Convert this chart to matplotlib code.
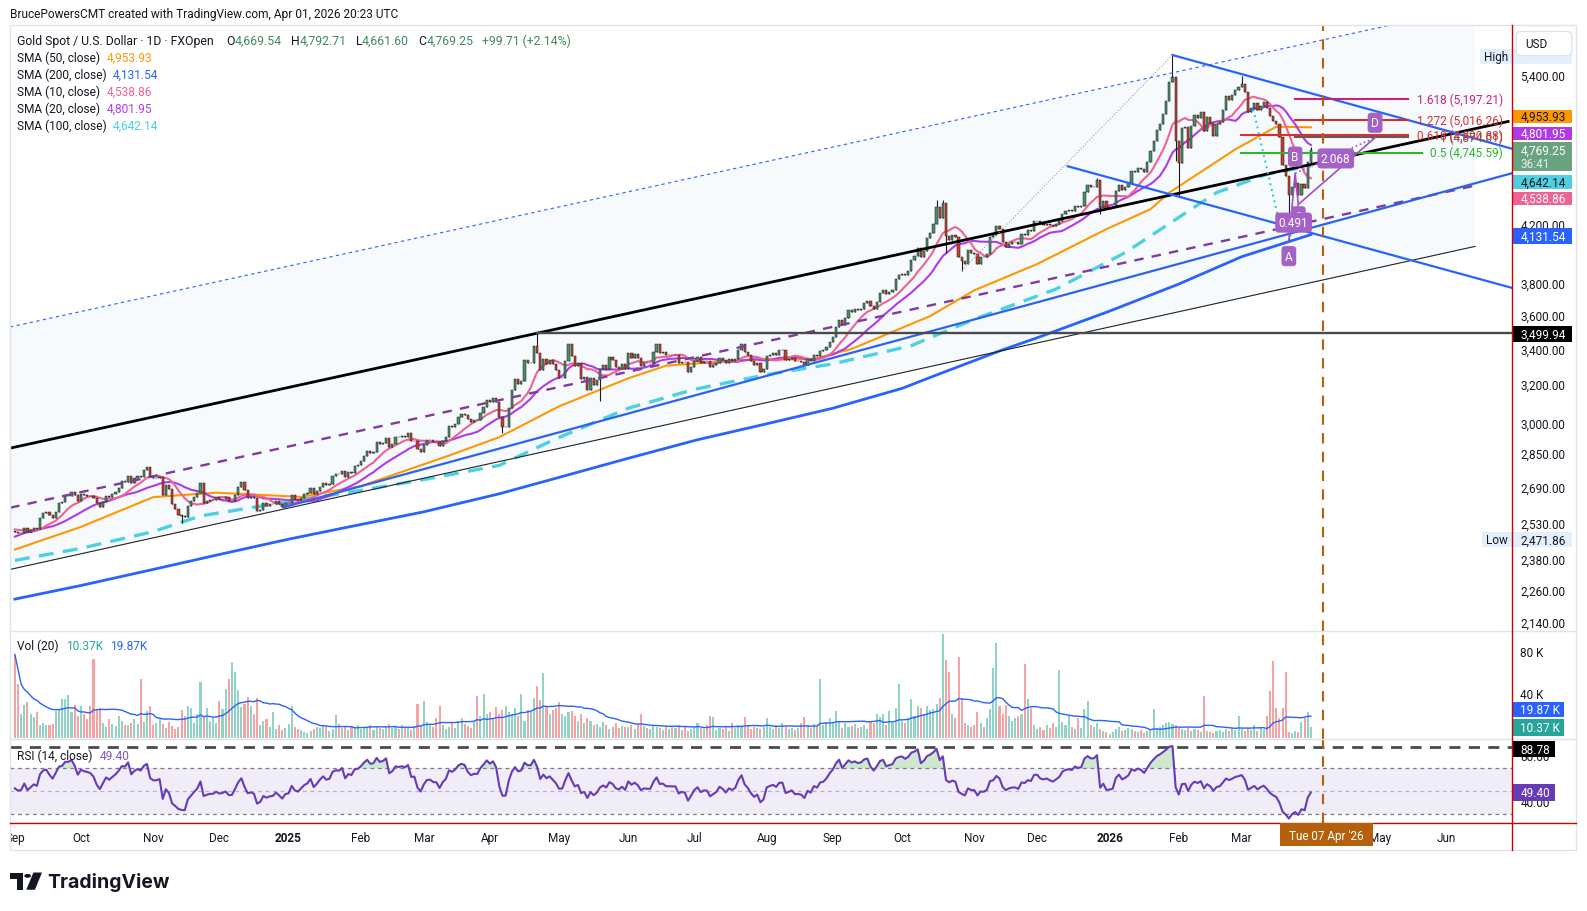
import matplotlib
matplotlib.use('Agg')
import matplotlib.pyplot as plt
import matplotlib.transforms as mtrans
from matplotlib.patches import Rectangle, Polygon, Circle, FancyBboxPatch
from matplotlib.lines import Line2D
import numpy as np
import pandas as pd

plt.rcParams['font.family'] = ['Roboto', 'DejaVu Sans']

# ---------------- daily closes (XAU/USD, FXOpen, 1D) ----------------
c_2408 = [2447, 2443, 2410, 2390, 2382, 2427, 2431, 2472, 2465, 2447, 2456,
          2507, 2504, 2514, 2512, 2485, 2512, 2518, 2524, 2504, 2521, 2503]
c_2409 = [2500, 2493, 2495, 2516, 2497, 2506, 2516, 2512, 2558, 2578, 2582,
          2569, 2559, 2586, 2622, 2628, 2657, 2657, 2672, 2658, 2634]
c_2410 = [2662, 2658, 2656, 2653, 2644, 2622, 2608, 2630, 2656, 2649, 2662, 2674,
          2693, 2721, 2720, 2748, 2715, 2736, 2747, 2743, 2774, 2788, 2744]
c_2411 = [2736, 2736, 2742, 2659, 2706, 2685, 2618, 2598, 2573, 2565, 2563,
          2612, 2631, 2651, 2670, 2715, 2625, 2633, 2638, 2639, 2650]
c_2412 = [2640, 2643, 2650, 2632, 2633, 2660, 2694, 2718, 2681, 2648, 2652,
          2646, 2587, 2595, 2622, 2612, 2618, 2620, 2634, 2621, 2606, 2624]
c_2501 = [2626, 2658, 2640, 2635, 2648, 2662, 2670, 2690, 2662, 2677, 2697, 2714,
          2703, 2708, 2745, 2755, 2754, 2770, 2740, 2763, 2760, 2795, 2798]
c_2502 = [2815, 2843, 2867, 2856, 2861, 2908, 2897, 2905, 2929, 2883,
          2898, 2935, 2933, 2939, 2936, 2952, 2915, 2916, 2875, 2858]
c_2503 = [2893, 2918, 2920, 2911, 2910, 2889, 2916, 2934, 2989, 2984, 3001,
          3034, 3048, 3044, 3022, 3011, 3020, 3019, 3057, 3085, 3123]
c_2504 = [3113, 3134, 3115, 3037, 2982, 2983, 3083, 3176, 3237, 3211, 3225,
          3343, 3327, 3327, 3424, 3381, 3288, 3349, 3319, 3344, 3317, 3288]
c_2505 = [3239, 3241, 3334, 3431, 3366, 3306, 3325, 3235, 3249, 3176, 3240,
          3202, 3229, 3290, 3314, 3294, 3358, 3342, 3301, 3289, 3317, 3289]
c_2506 = [3381, 3352, 3374, 3354, 3310, 3326, 3323, 3323, 3386, 3432, 3384,
          3388, 3369, 3369, 3368, 3368, 3323, 3333, 3328, 3273, 3303]
c_2507 = [3339, 3357, 3326, 3337, 3336, 3301, 3313, 3325, 3355, 3344, 3324, 3347,
          3339, 3350, 3397, 3431, 3387, 3368, 3337, 3314, 3326, 3274, 3289]
c_2508 = [3363, 3373, 3381, 3370, 3397, 3398, 3341, 3348, 3356, 3335, 3336,
          3332, 3315, 3348, 3339, 3372, 3365, 3393, 3397, 3416, 3448]
c_2509 = [3476, 3533, 3578, 3545, 3586, 3636, 3627, 3641, 3634, 3643, 3679,
          3690, 3660, 3644, 3685, 3746, 3763, 3736, 3749, 3760, 3833, 3858]
c_2510 = [3866, 3857, 3887, 3961, 3985, 4041, 3976, 4018, 4110, 4143, 4208, 4326,
          4251, 4356, 4125, 4095, 4126, 4112, 3981, 3951, 3929, 4025, 4002]
c_2511 = [4001, 3932, 3980, 3977, 4000, 4115, 4128, 4195, 4172, 4083,
          4045, 4067, 4077, 4078, 4065, 4135, 4130, 4163, 4156, 4230]
c_2512 = [4231, 4205, 4199, 4208, 4197, 4189, 4208, 4228, 4279, 4299, 4305, 4302,
          4338, 4332, 4339, 4444, 4490, 4480, 4480, 4533, 4331, 4375, 4318]
c_2601 = [4320, 4330, 4450, 4495, 4455, 4478, 4510, 4600, 4590, 4625, 4615,
          4595, 4670, 4760, 4840, 4930, 4985, 5070, 5180, 5350, 5395, 4840]
c_2602 = [4665, 4945, 4960, 4780, 4965, 5060, 5030, 5085, 4920, 5040,
          4990, 4880, 4980, 5000, 5100, 5220, 5190, 5230, 5280, 5300]
c_2603 = [5330, 5260, 5080, 5120, 5160, 5100, 5140, 5170, 5120, 5050, 5010,
          4980, 4870, 4650, 4560, 4420, 4480, 4510, 4420, 4500, 4470, 4669.54]
c_2604 = [4769.25]

close_pre = c_2408
close = (c_2409 + c_2410 + c_2411 + c_2412 + c_2501 + c_2502 + c_2503 + c_2504 +
         c_2505 + c_2506 + c_2507 + c_2508 + c_2509 + c_2510 + c_2511 + c_2512 +
         c_2601 + c_2602 + c_2603 + c_2604)

# notable wicks (bar index, price)
wick_hi_idx = [43, 166, 293, 295, 344, 368, 390, 412]
wick_hi_val = [2790, 3500, 4380, 4381, 4550, 5598, 5405, 4792.71]
wick_lo_idx = [53, 155, 186, 296, 301, 345, 369, 370, 405, 412]
wick_lo_val = [2537, 2956, 3120, 4004, 3886, 4275, 4680, 4402, 4088, 4661.60]

# ---------------- volume (thousands) ----------------
v_2409 = [78, 50, 22, 31, 33, 22, 19, 24, 12, 14, 12, 12, 13, 25, 26, 36, 36, 40, 24, 31, 20]
v_2410 = [30, 22, 17, 30, 74, 26, 28, 14, 10, 17, 13, 11, 20, 16, 12, 12, 14, 17, 13, 55, 15, 25, 30]
v_2411 = [12, 14, 18, 13, 9, 15, 11, 8, 10, 26, 20, 30, 28, 14, 22, 52, 20, 28, 16, 18, 14]
v_2412 = [34, 27, 46, 55, 71, 62, 45, 29, 32, 38, 30, 22, 37, 12, 16, 17, 10, 24, 8, 12, 7, 9]
v_2501 = [13, 30, 10, 8, 7, 5, 4, 6, 8, 10, 9, 12, 11, 6, 8, 21, 13, 9, 10, 7, 11, 9, 12]
v_2502 = [8, 10, 9, 12, 7, 10, 9, 8, 11, 13, 9, 10, 8, 12, 9, 10, 7, 11, 32, 12]
v_2503 = [34, 15, 12, 10, 18, 30, 12, 8, 10, 14, 9, 16, 18, 13, 11, 9, 15, 39, 20, 41, 22]
v_2504 = [24, 18, 29, 22, 26, 30, 24, 22, 28, 20, 41, 16, 26, 24, 37, 48, 35, 61, 30, 22, 26, 28]
v_2505 = [33, 22, 20, 24, 25, 20, 16, 22, 14, 18, 16, 12, 13, 10, 15, 12, 8, 10, 14, 9, 11, 10]
v_2506 = [10, 12, 8, 13, 22, 11, 9, 8, 12, 10, 9, 7, 11, 8, 10, 9, 12, 7, 10, 6, 8]
v_2507 = [10, 14, 9, 8, 12, 20, 19, 7, 9, 8, 10, 6, 14, 9, 12, 11, 19, 12, 8, 10, 9, 8, 10]
v_2508 = [18, 10, 8, 12, 9, 14, 10, 8, 9, 7, 9, 14, 19, 12, 9, 13, 11, 55, 12, 15, 18]
v_2509 = [14, 25, 16, 9, 14, 10, 11, 13, 9, 10, 12, 8, 15, 14, 22, 19, 22, 12, 25, 14, 28, 50]
v_2510 = [16, 14, 18, 36, 20, 30, 28, 22, 30, 26, 27, 32, 37, 97, 73, 62, 22, 18, 76, 37, 14, 12, 10]
v_2511 = [12, 24, 14, 10, 18, 27, 65, 89, 30, 22, 31, 20, 16, 18, 20, 22, 69, 36, 28, 12]
v_2512 = [8, 10, 7, 12, 9, 14, 10, 63, 15, 12, 20, 10, 8, 18, 9, 27, 34, 12, 10, 14, 8, 6, 5]
v_2601 = [3, 5, 8, 10, 6, 7, 9, 8, 6, 5, 7, 4, 6, 8, 27, 9, 10, 12, 14, 15, 13, 12]
v_2602 = [10, 8, 7, 9, 6, 8, 7, 5, 39, 6, 5, 4, 6, 7, 5, 8, 6, 9, 7, 20]
v_2603 = [8, 6, 9, 7, 12, 6, 10, 8, 20, 44, 72, 28, 18, 28, 62, 5, 4, 6, 5, 15, 18, 24]
v_2604 = [10.37]
volume = (v_2409 + v_2410 + v_2411 + v_2412 + v_2501 + v_2502 + v_2503 + v_2504 +
          v_2505 + v_2506 + v_2507 + v_2508 + v_2509 + v_2510 + v_2511 + v_2512 +
          v_2601 + v_2602 + v_2603 + v_2604)

# ---------------- longer SMAs (bar index, value) ----------------
sma50_i = [0, 21, 44, 64, 91, 110, 138, 154, 173, 195, 207, 230, 254, 266, 291,
           305, 325, 347, 361, 367, 388, 401, 412]
sma50_v = [2425, 2520, 2650, 2670, 2651, 2700, 2843, 2933, 3090, 3240, 3310, 3340,
           3348, 3405, 3600, 3760, 3931, 4170, 4313, 4436, 4773, 4959, 4953.93]
sma100_i = [0, 21, 44, 59, 87, 110, 130, 154, 172, 195, 216, 239, 260, 285, 290,
            305, 331, 353, 382, 398, 412]
sma100_v = [2381, 2430, 2500, 2567, 2630, 2680, 2730, 2796, 2925, 3080, 3180, 3260,
            3320, 3424, 3463, 3580, 3768, 4008, 4436, 4576, 4642.14]
sma200_i = [0, 21, 44, 65, 87, 107, 130, 154, 173, 195, 217, 239, 260, 282,
            291, 314, 325, 348, 370, 390, 412]
sma200_v = [2230, 2282, 2345, 2405, 2468, 2522, 2585, 2665, 2740, 2830, 2920,
            3000, 3080, 3185, 3245, 3400, 3470, 3630, 3800, 3980, 4131.54]

# ---------------- drawings (bar index, price) ----------------
chan_i = [-1.5, 464.2]
chan_top = [3534, 6076]
chan_bot = [2345, 4050]
mid_i, mid_p = [-1.5, 474.7], [2879, 5003]
pdash_i, pdash_p = [-1.5, 463.7], [2603, 4486]
trend_i, trend_p = [85.4, 476], [2605, 4584]
wedge_hi_i, wedge_hi_p = [368, 476], [5598, 4777]
wedge_lo_i, wedge_lo_p = [334.7, 476], [4638, 3775]
res_i, res_p = [166, 476], [3499.94, 3499.94]
dot_i, dot_p = [301, 368], [3886, 5598]
cyan_i, cyan_p = [393.7, 401.7], [5106, 4241]
abcd_i = [405, 407, 408, 432.4]
abcd_p = [4088, 4583, 4348, 4868]
abcd_lab = ['A', 'B', 'C', 'D']
fib_ext_lv = ['1.618', '1.272', '1']
fib_ext_px = [5197.21, 5016.26, 4874.01]
fib_ext_col = ['#c8207e', '#d32f2f', '#5d5d5d']
fib_ret_lv = ['0.618', '0.5']
fib_ret_px = [4890.88, 4745.59]
fib_ret_col = ['#d93030', '#2db52d']
vline_i = 416

# ---------------- derived series ----------------
N = len(close)
x = np.arange(N)
c = np.array(close, float)
o = np.r_[close_pre[-1], c[:-1]]
hi = np.maximum(o, c)
lo = np.minimum(o, c)
hi[wick_hi_idx] = np.maximum(hi[wick_hi_idx], wick_hi_val)
lo[wick_lo_idx] = np.minimum(lo[wick_lo_idx], wick_lo_val)
up = c >= o

allc = pd.Series(np.r_[close_pre, c])
sma10 = allc.rolling(10).mean().values[-N:]
sma20 = allc.rolling(20).mean().values[-N:]
d = allc.diff().values[1:]
ag = pd.Series(np.clip(d, 0, None)).ewm(alpha=1 / 14, adjust=False).mean()
al = pd.Series(np.clip(-d, 0, None)).ewm(alpha=1 / 14, adjust=False).mean()
rsi = (100 - 100 / (1 + ag / al)).values[-N:]
vol = np.array(volume, float)
vol_ma = pd.Series(vol).rolling(20, min_periods=1).mean().values

days = pd.bdate_range('2024-09-02', periods=480)

# ---------------- layout (reference grid 1568 x 901) ----------------
W, H = 1568.0, 901.0
def fx(v): return v / W
def fy(v): return 1 - v / H
def ppx(y): return 5400 * np.exp(-(y - 76.4) / 584.0)

XL, XR = 10, 1494
xlim = ((XL - 14.7) / 3.108, (XR - 14.7) / 3.108)
TXT = '#131722'
UP, DN = '#4a9068', '#c93f2e'
FS = 8.5

fig = plt.figure(figsize=(15.87, 9.12), dpi=100)
fig.patch.set_facecolor('white')

def mk_ax(top, bot):
    a = fig.add_axes([fx(XL), fy(bot), fx(XR) - fx(XL), (bot - top) / H])
    a.set_xlim(*xlim)
    a.set_axis_off()
    return a

ax = mk_ax(26, 624)
ax.set_yscale('log')
ax.set_ylim(ppx(624), ppx(26))
axv = mk_ax(624, 731)
axv.set_ylim(-40 * (731 - 729.7) / 42.1, 40 * (729.7 - 624) / 42.1)
axr = mk_ax(731, 814)
axr.set_ylim(30 - (814 - 805.2) / 1.1275, 70 + (760.1 - 731) / 1.1275)
axt = mk_ax(814, 841)
axt.set_ylim(0, 1)

# ---------------- price pane ----------------
ax.add_patch(Polygon([(chan_i[0], chan_top[0]), (chan_i[1], chan_top[1]),
                      (chan_i[1], chan_bot[1]), (chan_i[0], chan_bot[0])],
                     closed=True, fc='#f6fafd', ec='none', zorder=0))
ax.plot(chan_i, chan_top, color='#2962ff', lw=0.8, ls=(0, (3, 3)), zorder=5)
ax.plot(chan_i, chan_bot, color='#222222', lw=0.8, zorder=5)
ax.plot(mid_i, mid_p, color='black', lw=2.0, zorder=5)
ax.plot(pdash_i, pdash_p, color='#7f3b9e', lw=1.7, ls=(0, (4, 3.5)), zorder=5)
ax.plot(trend_i, trend_p, color='#2d62f0', lw=1.6, zorder=5)
ax.plot(wedge_hi_i, wedge_hi_p, color='#2962ff', lw=1.6, zorder=5)
ax.plot(wedge_lo_i, wedge_lo_p, color='#2962ff', lw=1.6, zorder=5)
ax.plot(res_i, res_p, color='#4a4a4a', lw=1.7, zorder=5)
ax.plot(dot_i, dot_p, color='#9e9e9e', lw=0.8, ls=':', zorder=5)
ax.plot(cyan_i, cyan_p, color='#26c6da', lw=1.4, ls=(0, (1, 2)), zorder=5)

# moving averages
ax.plot(sma200_i, sma200_v, color='#2962ff', lw=2.0, zorder=3)
ax.plot(sma100_i, sma100_v, color='#4dd0e1', lw=2.4, ls=(0, (4.5, 2.8)), zorder=3)
ax.plot(sma50_i, sma50_v, color='#ff9800', lw=1.5, zorder=3)
ax.plot(x, sma20, color='#b03ae8', lw=1.5, zorder=3)
ax.plot(x, sma10, color='#f06292', lw=1.5, zorder=3)

# candles
ax.vlines(x, lo, hi, color='#1b1b1b', lw=0.8, zorder=4)
ax.bar(x[up], (c - o)[up], bottom=o[up], width=0.7, color=UP,
       edgecolor='#1b1b1b', linewidth=0.35, zorder=4)
ax.bar(x[~up], (o - c)[~up], bottom=c[~up], width=0.7, color=DN,
       edgecolor='#1b1b1b', linewidth=0.35, zorder=4)

# fibonacci levels
for lv, p, col in zip(fib_ext_lv, fib_ext_px, fib_ext_col):
    ax.plot([406.9, 443.0], [p, p], color=col, lw=1.5, zorder=5)
    ax.text(473.1, p, f'{lv} ({p:,.2f})', color=col, fontsize=FS,
            ha='right', va='center', zorder=6)
for lv, p, col in zip(fib_ret_lv, fib_ret_px, fib_ret_col):
    x1 = 443.0 if lv == '0.618' else 447.2
    ax.plot([389.7, x1], [p, p], color=col, lw=1.5, zorder=5)
    ax.text(473.1, p, f'{lv} ({p:,.2f})', color=col, fontsize=FS,
            ha='right', va='center', zorder=6)

# harmonic pattern
PUR = '#9c4fc6'
ax.plot(abcd_i, abcd_p, color=PUR, lw=1.2, zorder=6)
ax.plot([abcd_i[0], abcd_i[2]], [abcd_p[0], abcd_p[2]], color=PUR, lw=1.2, ls=':', zorder=6)
ax.plot([abcd_i[1], abcd_i[3]], [abcd_p[1], abcd_p[3]], color=PUR, lw=1.2, ls=':', zorder=6)
box = dict(boxstyle='round,pad=0.3', fc='#a462c8', ec='none')
offs = {'A': -11, 'B': 12, 'C': -8.5, 'D': 10.7}
for i, p, lab in zip(abcd_i, abcd_p, abcd_lab):
    ax.annotate(lab, (i, p), xytext=(0, offs[lab]), textcoords='offset points',
                ha='center', va='center', color='white', fontsize=FS,
                bbox=box, zorder=7)
gm = lambda a, b: np.sqrt(a * b)
ax.annotate('0.491', ((abcd_i[0] + abcd_i[2]) / 2, gm(abcd_p[0], abcd_p[2])),
            ha='center', va='center', color='white', fontsize=FS, bbox=box, zorder=8)
ax.annotate('2.068', ((abcd_i[1] + abcd_i[3]) / 2 + 0.2, gm(abcd_p[1], abcd_p[3]) * 0.995),
            ha='center', va='center', color='white', fontsize=FS, bbox=box, zorder=8)

# ---------------- volume pane ----------------
axv.bar(x[up], vol[up], width=0.66, color='#92d3c7', zorder=2)
axv.bar(x[~up], vol[~up], width=0.66, color='#f5a3a3', zorder=2)
axv.plot(x, vol_ma, color='#2962ff', lw=1.0, zorder=3)

# ---------------- RSI pane ----------------
axr.axhspan(30, 70, color='#7e57c2', alpha=0.1, lw=0, zorder=0)
for lvl, col in [(70, '#787b86'), (50, '#b2b5be'), (30, '#787b86')]:
    axr.axhline(lvl, color=col, lw=0.9, ls=(0, (3, 3)), zorder=1)
axr.axhline(88.78, color='#4a4a4a', lw=2.0, ls=(0, (4, 3)), zorder=2)
axr.fill_between(x, 70, rsi, where=rsi > 70, interpolate=True,
                 color='#4caf50', alpha=0.28, lw=0, zorder=2)
axr.plot(x, rsi, color='#673ab7', lw=1.5, zorder=3)

# vertical marker
for a in (ax, axv, axr):
    a.axvline(vline_i, color='#b5600c', lw=1.5, ls=(0, (5, 4)), zorder=6)

# ---------------- time axis ----------------
prev = None
for j, dt in enumerate(days):
    if j > xlim[1]:
        break
    if prev is None or dt.month != prev:
        lab = str(dt.year) if dt.month == 1 else dt.strftime('%b')
        if abs(j - vline_i) > 8:   # the date badge covers the label under it
            axt.text(j, 0.48, lab, ha='center', va='center', fontsize=FS, color=TXT,
                     fontweight='bold' if dt.month == 1 else 'normal', clip_on=True)
    prev = dt.month
fig.add_artist(Rectangle((fx(1264.7), fy(837)), fx(1356.6) - fx(1264.7), 23 / H,
                         transform=fig.transFigure, fc='#b5600c', ec='none', zorder=5))
fig.text(fx(1310.6), fy(826), "Tue 07 Apr '26", color='white', fontsize=FS,
         ha='center', va='center', zorder=6)

# ---------------- frame lines ----------------
def hline(y, x0, x1, col, lw=1.0):
    fig.add_artist(Line2D([fx(x0), fx(x1)], [fy(y), fy(y)], color=col, lw=lw,
                          transform=fig.transFigure, zorder=4))
hline(624, 10, 1557, '#e0e3eb')
hline(731, 10, 1557, '#e0e3eb')
fig.add_artist(Rectangle((fx(10), fy(841)), fx(1557) - fx(10), (841 - 26) / H,
                         transform=fig.transFigure, fill=False, ec='#e0e3eb', lw=1, zorder=4))
hline(814, 10, 1557, '#cc0000')
fig.add_artist(Line2D([fx(1494)] * 2, [fy(26), fy(841)], color='#cc0000', lw=1,
                      transform=fig.transFigure, zorder=7))

# ---------------- right price scale ----------------
trp = mtrans.blended_transform_factory(fig.transFigure, ax.transData)
for v in [5400, 4200, 3800, 3600, 3400, 3200, 3000, 2850, 2690, 2530, 2380, 2260, 2140]:
    fig.text(fx(1502), v, f'{v:,.2f}', transform=trp, fontsize=FS, color=TXT,
             va='center', ha='left', zorder=4)
trv = mtrans.blended_transform_factory(fig.transFigure, axv.transData)
for v in [80, 40]:
    fig.text(fx(1502), v, f'{v} K', transform=trv, fontsize=FS, color=TXT,
             va='center', ha='left', zorder=4)
trr = mtrans.blended_transform_factory(fig.transFigure, axr.transData)
for v in [80, 40]:
    fig.text(fx(1502), v, f'{v:.2f}', transform=trr, fontsize=FS, color=TXT,
             va='center', ha='left', zorder=4)

def tag(y0, y1, txt, fc, tc='white', x0=1494, x1=1553, ty=None):
    fig.add_artist(Rectangle((fx(x0), fy(y1)), fx(x1) - fx(x0), (y1 - y0) / H,
                             transform=fig.transFigure, fc=fc, ec='none', zorder=5))
    fig.text(fx(1502), fy(ty if ty is not None else (y0 + y1) / 2), txt, color=tc,
             fontsize=FS, va='center', ha='left', zorder=6)

fig.add_artist(Rectangle((fx(1462), fy(64)), fx(1553) - fx(1462), 15 / H,
                         transform=fig.transFigure, fc='#e3effd', ec='none', zorder=5))
fig.text(fx(1466), fy(56.5), 'High', fontsize=FS, color=TXT, va='center', zorder=6)
fig.add_artist(FancyBboxPatch((fx(1498), fy(56)), fx(1553) - fx(1498), 24 / H,
                              boxstyle='round,pad=0,rounding_size=0.004',
                              transform=fig.transFigure, fc='white', ec='#e0e3eb',
                              lw=1, zorder=6))
fig.text(fx(1507), fy(44), 'USD', fontsize=FS, color=TXT, va='center', zorder=7)
tag(109.7, 122.2, '4,953.93', '#ff9800', TXT)
tag(126.8, 139.3, '4,801.95', '#b03ae8')
tag(141.6, 169.6, '4,769.25', '#6aa37f', ty=149.5)
fig.text(fx(1502), fy(163), '36:41', color='#e8f2ec', fontsize=FS, va='center', zorder=6)
tag(173.6, 187.7, '4,642.14', '#4dd0e1', TXT)
tag(190.4, 203.5, '4,538.86', '#f06292')
tag(226.2, 242.0, '4,131.54', '#2962ff')
tag(323.4, 338.6, '3,499.94', '#000000')
fig.add_artist(Rectangle((fx(1464), fy(541.7)), fx(1553) - fx(1464), 14.7 / H,
                         transform=fig.transFigure, fc='#e3effd', ec='none', zorder=5))
fig.text(fx(1468), fy(534.3), 'Low', fontsize=FS, color=TXT, va='center', zorder=6)
fig.text(fx(1502), fy(534.3), '2,471.86', fontsize=FS, color=TXT, va='center', zorder=6)
tag(694.9, 709.7, '19.87 K', '#2962ff', x1=1545)
tag(711.3, 727.8, '10.37 K', '#26a69a', x1=1545)
tag(733.4, 749.2, '88.78', '#000000', x1=1536.5)
tag(775.6, 792.0, '49.40', '#673ab7', x1=1536.5)

# ---------------- legends ----------------
rend = fig.canvas.get_renderer()
def seq(xp, yp, parts, fs=8.6):
    for s, col, gap in parts:
        t = fig.text(fx(xp), fy(yp), s, color=col, fontsize=fs, va='center',
                     ha='left', zorder=8)
        xp += t.get_window_extent(renderer=rend).width * W / fig.bbox.width + gap

GRN = '#3f8a5e'
fig.text(fx(10), fy(14), 'BrucePowersCMT created with TradingView.com, Apr 01, 2026 20:23 UTC',
         fontsize=8.6, color=TXT, va='center', ha='left')
seq(17, 41, [('Gold Spot / U.S. Dollar · 1D · FXOpen', TXT, 12),
             ('O', TXT, 0), ('4,669.54', GRN, 9), ('H', TXT, 0), ('4,792.71', GRN, 9),
             ('L', TXT, 0), ('4,661.60', GRN, 9), ('C', TXT, 0), ('4,769.25', GRN, 9),
             ('+99.71 (+2.14%)', GRN, 0)], fs=8.8)
sma_leg = [('SMA (50, close)', '4,953.93', '#ff9800'),
           ('SMA (200, close)', '4,131.54', '#2962ff'),
           ('SMA (10, close)', '4,538.86', '#f06292'),
           ('SMA (20, close)', '4,801.95', '#b03ae8'),
           ('SMA (100, close)', '4,642.14', '#4dd0e1')]
for k, (nm, val, col) in enumerate(sma_leg):
    seq(17, 58 + k * 16.8, [(nm, TXT, 6), (val, col, 0)])
seq(17, 638.9, [('Vol (20)', TXT, 7), ('10.37K', '#26a69a', 7), ('19.87K', '#2962ff', 0)])
seq(17, 747.5, [('RSI (14, close)', TXT, 7), ('49.40', '#7e57c2', 0)])

# ---------------- TradingView logo ----------------
fig.add_artist(Polygon([(fx(10), fy(863)), (fx(22.5), fy(863)), (fx(22.5), fy(880)),
                        (fx(16.5), fy(880)), (fx(16.5), fy(869)), (fx(10), fy(869))],
                       closed=True, transform=fig.transFigure, fc='#131722', ec='none'))
fig.add_artist(Circle((fx(27.3), fy(866.3)), 3.3 / W, transform=fig.transFigure,
                      fc='#131722', ec='none'))
fig.add_artist(Polygon([(fx(33), fy(863)), (fx(41.5), fy(863)), (fx(34.5), fy(880)),
                        (fx(26), fy(880))], closed=True, transform=fig.transFigure,
                       fc='#131722', ec='none'))
fig.text(fx(47), fy(872), 'TradingView', fontsize=14, fontweight='bold',
         family=['Inter', 'DejaVu Sans'], color='#131722', va='center', ha='left')

fig.savefig('out.png', dpi=100, facecolor='white')
